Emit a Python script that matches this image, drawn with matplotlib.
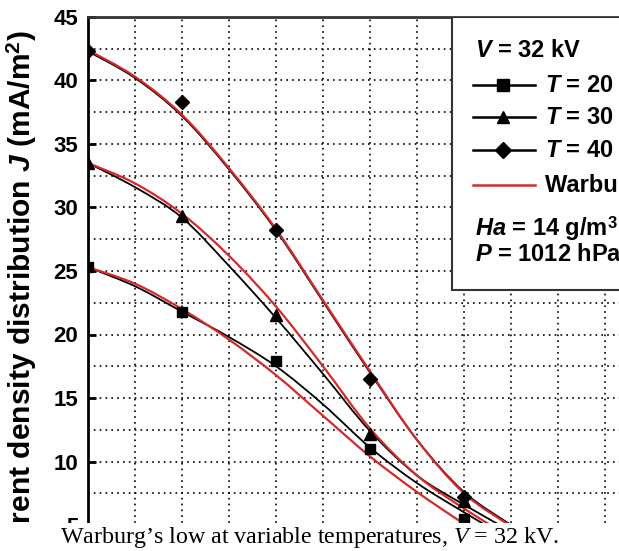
import numpy as np
import matplotlib
matplotlib.use("Agg")
import matplotlib.pyplot as plt
from matplotlib import font_manager
from matplotlib.lines import Line2D
from matplotlib.patches import Rectangle, PathPatch
from matplotlib.path import Path

names = {f.name for f in font_manager.fontManager.ttflist}
SANS = "Liberation Sans Narrow" if "Liberation Sans Narrow" in names else "Liberation Sans"

plt.rcParams["mathtext.fontset"] = "custom"
plt.rcParams["mathtext.it"] = "Liberation Serif:italic"
plt.rcParams["mathtext.sf"] = SANS + ":italic:bold"
plt.rcParams["mathtext.bf"] = SANS + ":bold"

# measured points (markers)
x_pts = [0, 1, 2, 3, 4]
j_20 = [25.3, 21.75, 17.9, 10.95, 5.5]
j_30 = [33.5, 29.3, 21.5, 12.2, 6.9]
j_40 = [42.3, 38.3, 28.2, 16.5, 7.2]

# fitted black curves and Warburg (red) curves, read every half grid step
x_fit = [0, 0.5, 1, 1.5, 2, 2.5, 3, 3.5, 4, 4.5]
fit_20 = [25.3, 23.8, 21.8, 19.8, 17.5, 14.5, 11.1, 8.3, 6.0, 3.8]
fit_30 = [33.5, 31.6, 29.2, 25.4, 21.3, 16.9, 12.4, 8.9, 6.6, 4.5]
fit_40 = [42.3, 40.2, 37.2, 33.0, 28.2, 22.6, 17.0, 11.7, 7.6, 5.0]
warb_20 = [25.3, 24.0, 22.0, 19.6, 16.8, 13.6, 10.4, 7.6, 5.1, 2.8]
warb_30 = [33.5, 31.9, 29.5, 26.2, 22.2, 17.5, 12.6, 8.9, 6.3, 4.0]
warb_40 = [42.4, 40.3, 37.3, 33.1, 28.3, 22.7, 17.1, 11.7, 7.5, 4.9]

RED = "#d42a2a"


def smooth_path(xs, ys):
    # Catmull-Rom style bezier through the read points
    xs, ys = np.asarray(xs, float), np.asarray(ys, float)
    n = len(xs)
    verts = [(xs[0], ys[0])]
    codes = [Path.MOVETO]
    for i in range(n - 1):
        a = max(i - 1, 0)
        b = min(i + 2, n - 1)
        c1 = (xs[i] + (xs[i + 1] - xs[a]) / 6, ys[i] + (ys[i + 1] - ys[a]) / 6)
        c2 = (xs[i + 1] - (xs[b] - xs[i]) / 6, ys[i + 1] - (ys[b] - ys[i]) / 6)
        verts += [c1, c2, (xs[i + 1], ys[i + 1])]
        codes += [Path.CURVE4] * 3
    return Path(verts, codes)


fig = plt.figure(figsize=(6.19, 5.51), dpi=100)
ax = fig.add_axes([88 / 619, 1 - 588.5 / 551, 564 / 619, 571.5 / 551])

for fit, warb, pts, mk, ms in [(fit_20, warb_20, j_20, "s", 6.5),
                               (fit_30, warb_30, j_30, "^", 8.5),
                               (fit_40, warb_40, j_40, "D", 7.5)]:
    ax.add_patch(PathPatch(smooth_path(x_fit, fit), fill=False, edgecolor="black",
                           lw=1.3, zorder=3))
    ax.add_patch(PathPatch(smooth_path(x_fit, warb), fill=False, edgecolor=RED,
                           lw=1.6, zorder=3))
    ax.plot(x_pts, pts, mk, color="black", ms=ms, zorder=4)

ax.set_xlim(0, 6)
ax.set_ylim(0, 45)
ax.set_xticks(np.arange(0, 6.01, 0.5))
ax.set_yticks(np.arange(0, 46, 5))
ax.set_yticks(np.arange(2.5, 45, 5), minor=True)
ax.grid(which="both", color="black", linestyle=(0, (1, 2.5)), linewidth=1.2, zorder=1)
ax.set_axisbelow(True)
ax.tick_params(axis="x", which="both", length=0, labelbottom=False)
ax.tick_params(axis="y", which="major", direction="in", length=6, width=2, pad=7, labelsize=16)
ax.tick_params(axis="y", which="minor", length=0)
for lab in ax.get_yticklabels():
    lab.set_fontweight("bold")
    lab.set_family(SANS)
ax.spines["left"].set_linewidth(2)
ax.spines["left"].set_color("black")
ax.spines["top"].set_linewidth(2)
ax.spines["top"].set_color("#333333")

# legend box (cut by the right edge of the picture)
ax.add_patch(Rectangle((0.645, 0.522), 0.6, 0.478, transform=ax.transAxes,
                       facecolor="white", edgecolor="#333333", lw=1.5, zorder=5))
txt = dict(transform=ax.transAxes, fontsize=17, fontweight="bold", family=SANS,
           va="center", ha="left", zorder=6)
ax.text(0.686, 0.942, r"$\mathsf{V}$ = 32 kV", **txt)
rows = [("s", 8, "black", 0.881, r"$\mathsf{T}$ = 20 °C"),
        ("^", 9, "black", 0.825, r"$\mathsf{T}$ = 30 °C"),
        ("D", 8, "black", 0.767, r"$\mathsf{T}$ = 40 °C"),
        (None, 0, RED, 0.706, "Warburg’s law")]
for mk, ms, col, yy, lab in rows:
    ax.add_line(Line2D([0.683, 0.793], [yy, yy], transform=ax.transAxes,
                       color=col, lw=1.8, zorder=6))
    if mk:
        ax.add_line(Line2D([0.736], [yy], transform=ax.transAxes, marker=mk,
                           ms=ms, color="black", ls="none", zorder=6))
    ax.text(0.810, yy, lab, **txt)
ax.text(0.686, 0.629, r"$\mathsf{Ha}$ = 14 g/m$^{\mathbf{3}}$", **txt)
ax.text(0.686, 0.585, r"$\mathsf{P}$ = 1012 hPa", **txt)

fig.text(22 / 619, 1 - 303 / 551,
         r"Current density distribution $\mathsf{J}$ (mA/m$^{\mathbf{2}}$)",
         rotation=90, ha="center", va="center", fontsize=21.6, fontweight="bold", family=SANS)

# caption strip
fig.patches.append(Rectangle((0, 0), 1, 28 / 551, transform=fig.transFigure,
                             facecolor="white", edgecolor="none", zorder=10))
fig.text(310 / 619, 1 - 537 / 551, r"Warburg’s low at variable temperatures, $V$ = 32 kV.",
         family="Liberation Serif", fontsize=17.3, ha="center", va="center", zorder=11)

fig.savefig("out.png", dpi=100)
